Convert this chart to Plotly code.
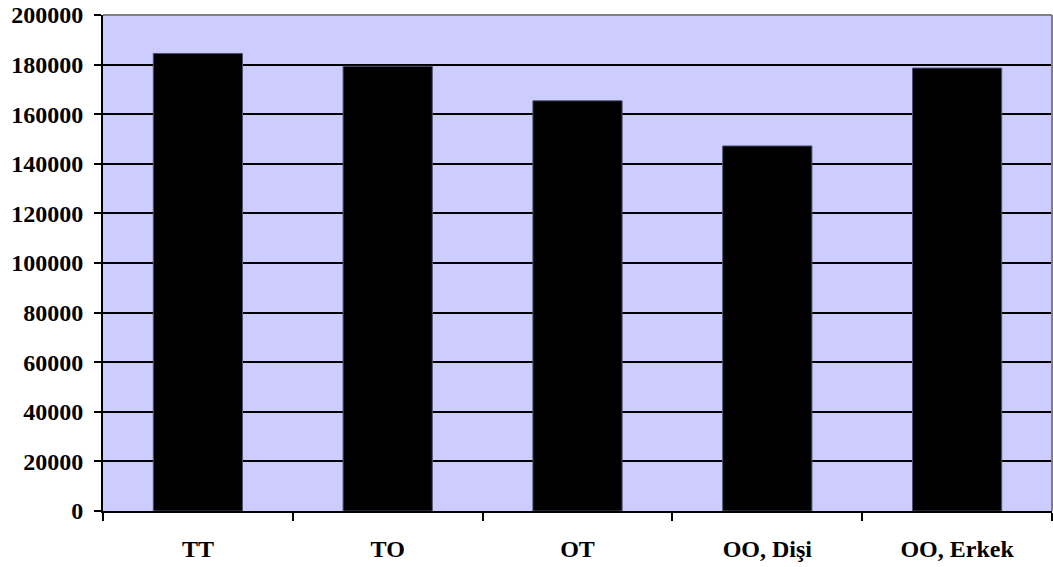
import plotly.graph_objects as go

categories = ["TT", "TO", "OT", "OO, Dişi", "OO, Erkek"]
values = [184500, 179300, 165400, 147200, 178600]
y_ticks = [0, 20000, 40000, 60000, 80000, 100000, 120000, 140000, 160000, 180000, 200000]

xfont = dict(family="Liberation Serif", size=24, color="black", weight="bold")
yfont = dict(family="Liberation Serif", size=24, color="black", weight="bold")

fig = go.Figure()
fig.add_trace(go.Bar(
    x=categories, y=values,
    marker=dict(color="black", line=dict(color="#505070", width=1)),
    hoverinfo="x+y",
))

fig.update_layout(
    width=1053, height=567,
    margin=dict(l=103, r=1, t=15, b=56),
    paper_bgcolor="white",
    plot_bgcolor="#CCCCFF",
    bargap=0.53,
    showlegend=False,
    font=xfont,
    xaxis=dict(
        type="category",
        tickson="boundaries",
        ticks="outside", ticklen=8, tickwidth=2, tickcolor="black",
        showline=True, linecolor="black", linewidth=2,
        showgrid=False,
        tickfont=xfont,
        ticklabelstandoff=15,
    ),
    yaxis=dict(
        range=[0, 200000],
        tickvals=y_ticks,
        tickformat="d",
        ticks="outside", ticklen=7, tickwidth=2, tickcolor="black",
        showline=True, linecolor="black", linewidth=2,
        showgrid=True, gridcolor="black", gridwidth=2,
        zeroline=False,
        tickfont=yfont,
        ticklabelstandoff=6,
    ),
    shapes=[
        dict(type="line", xref="paper", yref="paper", x0=0, x1=1, y0=1, y1=1,
             line=dict(color="#808080", width=2)),
        dict(type="line", xref="paper", yref="paper", x0=1, x1=1, y0=0, y1=1,
             line=dict(color="#808080", width=2)),
    ],
)

fig.write_html("out.html")
